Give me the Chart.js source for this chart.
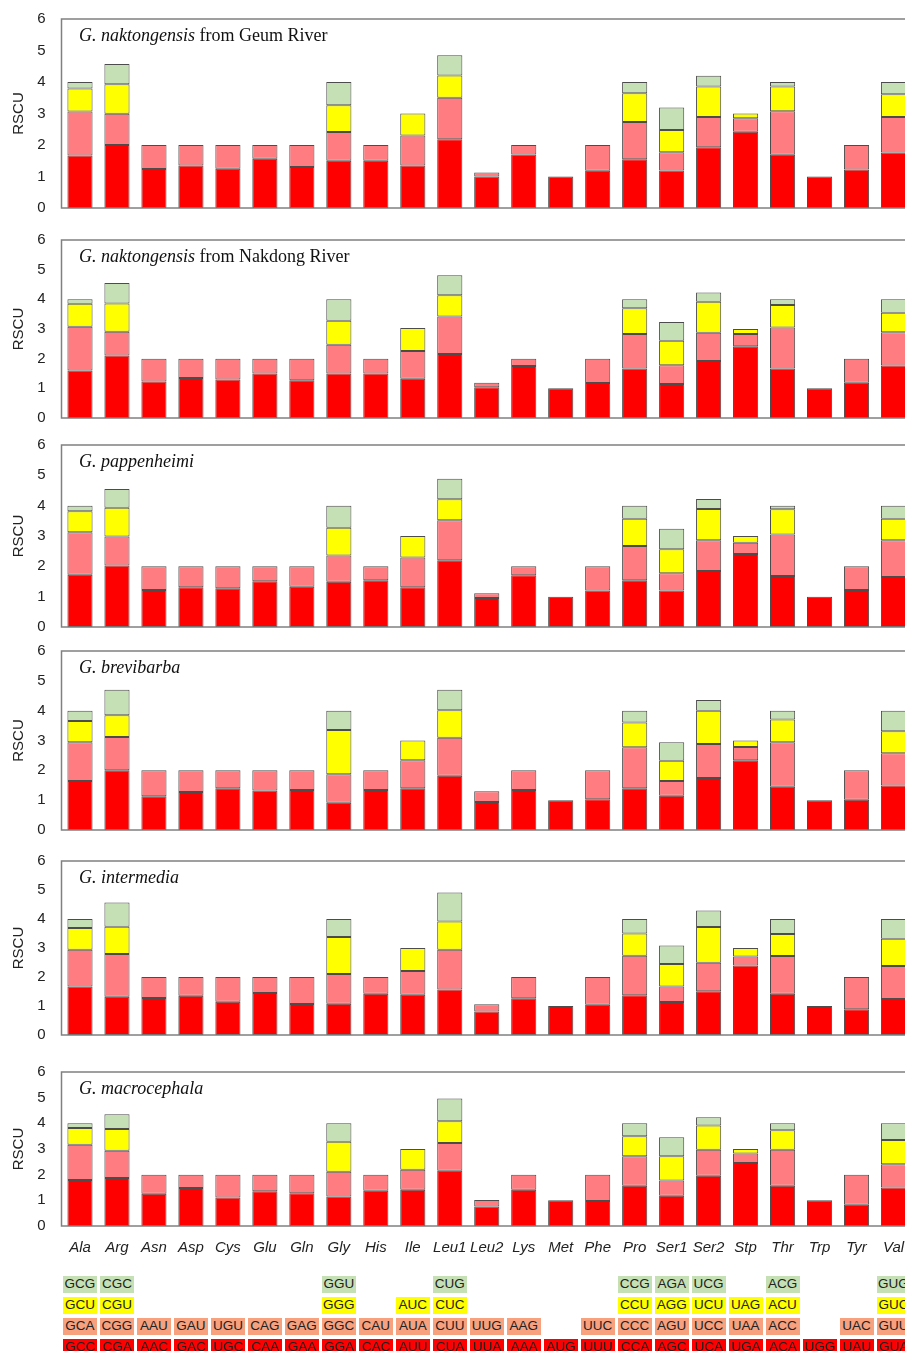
<!DOCTYPE html>
<html>
<head>
<meta charset="utf-8">
<script src="https://cdn.jsdelivr.net/npm/chart.js@4.4.0/dist/chart.umd.min.js"></script>
<style>
  body { margin: 0; background: #fff; overflow: hidden; }
  #wrap { position: relative; width: 920px; height: 1351px; overflow: hidden; }
  canvas { position: absolute; left: 0; }
  .cell { position: absolute; width: 34px; height: 17px; line-height: 17px; text-align: center;
          font: 13.5px "Liberation Sans", Arial, sans-serif; color: #222; }
</style>
</head>
<body>
<div id="wrap">
  <canvas id="c1" width="920" height="239" style="top:-6px"></canvas>
  <canvas id="c2" width="920" height="228" style="top:215px"></canvas>
  <canvas id="c3" width="920" height="232" style="top:420px"></canvas>
  <canvas id="c4" width="920" height="229" style="top:626px"></canvas>
  <canvas id="c5" width="920" height="224" style="top:836px"></canvas>
  <canvas id="c6" width="920" height="219" style="top:1047px"></canvas>
</div>
<script>
const aminoAcids = ["Ala","Arg","Asn","Asp","Cys","Glu","Gln","Gly","His","Ile","Leu1","Leu2","Lys","Met","Phe","Pro","Ser1","Ser2","Stp","Thr","Trp","Tyr","Val"];
const yTicks = [0, 1, 2, 3, 4, 5, 6];

// codon table, top row (green) to bottom row (red)
const codonRow1 = ["GCG","CGC","","","","","","GGU","","","CUG","","","","","CCG","AGA","UCG","","ACG","","","GUG"];
const codonRow2 = ["GCU","CGU","","","","","","GGG","","AUC","CUC","","","","","CCU","AGG","UCU","UAG","ACU","","","GUC"];
const codonRow3 = ["GCA","CGG","AAU","GAU","UGU","CAG","GAG","GGC","CAU","AUA","CUU","UUG","AAG","","UUC","CCC","AGU","UCC","UAA","ACC","","UAC","GUU"];
const codonRow4 = ["GCC","CGA","AAC","GAC","UGC","CAA","GAA","GGA","CAC","AUU","CUA","UUA","AAA","AUG","UUU","CCA","AGC","UCA","UGA","ACA","UGG","UAU","GUA"];

const n = null;
// RSCU per species, stacked bottom (red) -> salmon -> yellow -> green (top)
const geumRed    = [1.67,2.00,1.24,1.35,1.25,1.56,1.30,1.50,1.50,1.35,2.18,1.00,1.70,1.00,1.18,1.55,1.19,1.93,2.42,1.69,1.00,1.22,1.76];
const geumSalmon = [1.39,0.99,0.76,0.65,0.75,0.44,0.70,0.91,0.50,0.95,1.32,0.13,0.30,n,0.82,1.18,0.58,0.96,0.43,1.38,n,0.78,1.13];
const geumYellow = [0.73,0.94,n,n,n,n,n,0.85,n,0.70,0.71,n,n,n,n,0.91,0.71,0.97,0.15,0.79,n,n,0.72];
const geumGreen  = [0.21,0.64,n,n,n,n,n,0.74,n,n,0.64,n,n,n,n,0.36,0.71,0.34,n,0.14,n,n,0.39];

const nakRed    = [1.60,2.11,1.23,1.35,1.30,1.50,1.27,1.50,1.50,1.32,2.16,1.04,1.75,1.00,1.18,1.67,1.15,1.92,2.42,1.67,1.00,1.19,1.77];
const nakSalmon = [1.48,0.80,0.77,0.65,0.70,0.50,0.73,0.97,0.50,0.94,1.26,0.15,0.25,n,0.82,1.16,0.63,0.95,0.41,1.38,n,0.81,1.12];
const nakYellow = [0.77,0.95,n,n,n,n,n,0.81,n,0.77,0.72,n,n,n,n,0.87,0.82,1.05,0.17,0.76,n,n,0.66];
const nakGreen  = [0.15,0.69,n,n,n,n,n,0.72,n,n,0.67,n,n,n,n,0.30,0.64,0.31,n,0.19,n,n,0.45];

const papRed    = [1.72,2.03,1.22,1.31,1.28,1.51,1.33,1.49,1.54,1.31,2.20,0.96,1.71,1.00,1.20,1.54,1.20,1.85,2.41,1.68,1.00,1.22,1.65];
const papSalmon = [1.40,0.95,0.78,0.69,0.72,0.49,0.67,0.87,0.46,0.98,1.32,0.15,0.29,n,0.80,1.13,0.57,1.01,0.37,1.37,n,0.78,1.21];
const papYellow = [0.70,0.95,n,n,n,n,n,0.91,n,0.71,0.69,n,n,n,n,0.90,0.79,1.03,0.22,0.83,n,n,0.71];
const papGreen  = [0.18,0.62,n,n,n,n,n,0.73,n,n,0.68,n,n,n,n,0.43,0.68,0.33,n,0.12,n,n,0.43];

const brevRed    = [1.64,2.00,1.13,1.27,1.40,1.32,1.34,0.91,1.34,1.40,1.82,0.94,1.34,1.00,1.03,1.40,1.15,1.74,2.34,1.45,1.00,1.01,1.49];
const brevSalmon = [1.30,1.12,0.87,0.73,0.60,0.68,0.66,0.96,0.66,0.94,1.27,0.36,0.66,n,0.97,1.37,0.49,1.14,0.44,1.49,n,0.99,1.08];
const brevYellow = [0.71,0.73,n,n,n,n,n,1.48,n,0.66,0.92,n,n,n,n,0.83,0.68,1.12,0.22,0.76,n,n,0.74];
const brevGreen  = [0.35,0.85,n,n,n,n,n,0.65,n,n,0.69,n,n,n,n,0.40,0.62,0.36,n,0.30,n,n,0.69];

const interRed    = [1.67,1.32,1.28,1.35,1.15,1.45,1.07,1.08,1.42,1.39,1.57,0.81,1.27,1.00,1.04,1.37,1.14,1.51,2.40,1.42,1.00,0.89,1.24];
const interSalmon = [1.27,1.47,0.72,0.65,0.85,0.55,0.93,1.02,0.58,0.82,1.37,0.25,0.73,n,0.96,1.36,0.53,0.98,0.31,1.30,n,1.11,1.14];
const interYellow = [0.75,0.94,n,n,n,n,n,1.28,n,0.79,0.97,n,n,n,n,0.77,0.78,1.23,0.29,0.76,n,n,0.94];
const interGreen  = [0.31,0.84,n,n,n,n,n,0.62,n,n,1.00,n,n,n,n,0.50,0.64,0.57,n,0.52,n,n,0.68];

const macroRed    = [1.79,1.87,1.26,1.48,1.11,1.35,1.28,1.15,1.37,1.41,2.15,0.76,1.41,1.00,0.97,1.57,1.18,1.96,2.45,1.57,1.00,0.83,1.50];
const macroSalmon = [1.38,1.06,0.74,0.52,0.89,0.65,0.72,0.96,0.63,0.78,1.08,0.25,0.59,n,1.03,1.15,0.59,1.01,0.37,1.40,n,1.17,0.91];
const macroYellow = [0.65,0.85,n,n,n,n,n,1.17,n,0.81,0.85,n,n,n,n,0.78,0.95,0.95,0.18,0.76,n,n,0.94];
const macroGreen  = [0.18,0.57,n,n,n,n,n,0.72,n,n,0.89,n,n,n,n,0.50,0.74,0.32,n,0.27,n,n,0.65];

const barColors = ["#FF0000", "#FF7C80", "#FFFF00", "#C5E0B4"];
const cellColors = ["#C5E0B4", "#FFFF00", "#F7A17F", "#FF0000"];

const panels = [
  { id: "c1", italic: "G. naktongensis", plain: " from Geum River", data: [geumRed, geumSalmon, geumYellow, geumGreen] },
  { id: "c2", italic: "G. naktongensis", plain: " from Nakdong River", data: [nakRed, nakSalmon, nakYellow, nakGreen] },
  { id: "c3", italic: "G. pappenheimi", plain: "", data: [papRed, papSalmon, papYellow, papGreen] },
  { id: "c4", italic: "G. brevibarba", plain: "", data: [brevRed, brevSalmon, brevYellow, brevGreen] },
  { id: "c5", italic: "G. intermedia", plain: "", data: [interRed, interSalmon, interYellow, interGreen] },
  { id: "c6", italic: "G. macrocephala", plain: "", data: [macroRed, macroSalmon, macroYellow, macroGreen], last: true }
];

// species name, italic genus+species then plain text
const panelTitle = {
  id: "panelTitle",
  afterDraw(chart, args, opts) {
    const { ctx, chartArea } = chart;
    ctx.save();
    ctx.fillStyle = "#111";
    ctx.textBaseline = "middle";
    let x = chartArea.left + 17.5;
    const y = chartArea.top + 17;
    ctx.font = 'italic 18px "Liberation Serif", "Times New Roman", serif';
    ctx.fillText(opts.italic, x, y);
    x += ctx.measureText(opts.italic).width;
    if (opts.plain) {
      ctx.font = '18px "Liberation Serif", "Times New Roman", serif';
      ctx.fillText(opts.plain, x, y);
    }
    ctx.restore();
  }
};

// box round the plot area
const frame = {
  id: "frame",
  afterDatasetsDraw(chart) {
    const { ctx, chartArea: a } = chart;
    ctx.save();
    ctx.strokeStyle = "#808080";
    ctx.lineWidth = 1.5;
    ctx.strokeRect(a.left, a.top, a.right - a.left, a.bottom - a.top);
    ctx.restore();
  }
};

let lastChart;
panels.forEach(p => {
  const xScale = {
    stacked: true,
    display: !!p.last,
    grid: { display: false, drawTicks: false },
    border: { display: false },
    ticks: {
      padding: 13,
      color: "#222",
      font: { family: '"Liberation Sans", Arial, sans-serif', size: 15, style: "italic" },
      maxRotation: 0,
      autoSkip: false
    }
  };
  if (p.last) xScale.afterFit = s => { s.height = 40; };

  const cfg = {
    type: "bar",
    data: {
      labels: aminoAcids,
      datasets: p.data.map((d, i) => ({
        data: d,
        backgroundColor: barColors[i],
        borderColor: "rgba(45,45,45,0.85)",
        borderWidth: 1,
        borderSkipped: false,
        barPercentage: 0.68,
        categoryPercentage: 1
      }))
    },
    options: {
      responsive: false,
      animation: false,
      layout: { padding: { top: 25, bottom: p.last ? 0 : 25, left: 0, right: 8 } },
      plugins: {
        legend: { display: false },
        tooltip: { enabled: false },
        panelTitle: { italic: p.italic, plain: p.plain }
      },
      scales: {
        x: xScale,
        y: {
          stacked: true,
          min: 0,
          max: 6,
          grid: { display: false, drawTicks: false },
          border: { display: false },
          afterBuildTicks: s => { s.ticks = yTicks.map(v => ({ value: v })); },
          ticks: {
            padding: 16,
            autoSkip: false,
            color: "#222",
            font: { family: '"Liberation Sans", Arial, sans-serif', size: 15 }
          },
          title: {
            display: true,
            text: "RSCU",
            color: "#222",
            padding: { top: 10, bottom: 0 },
            font: { family: '"Liberation Sans", Arial, sans-serif', size: 15 }
          },
          afterFit: s => { s.width = 61.5; }
        }
      }
    },
    plugins: [panelTitle, frame]
  };
  const chart = new Chart(document.getElementById(p.id), cfg);
  if (p.last) lastChart = chart;
});

// codon table under the last panel, one box per codon aligned to the x scale
const wrap = document.getElementById("wrap");
const xs = lastChart.scales.x;
[codonRow1, codonRow2, codonRow3, codonRow4].forEach((row, r) => {
  row.forEach((codon, i) => {
    if (!codon) return;
    const d = document.createElement("div");
    d.className = "cell";
    d.textContent = codon;
    d.style.left = (xs.getPixelForValue(i) - 17) + "px";
    d.style.top = (1276 + r * 21) + "px";
    d.style.background = cellColors[r];
    wrap.appendChild(d);
  });
});
</script>
</body>
</html>
